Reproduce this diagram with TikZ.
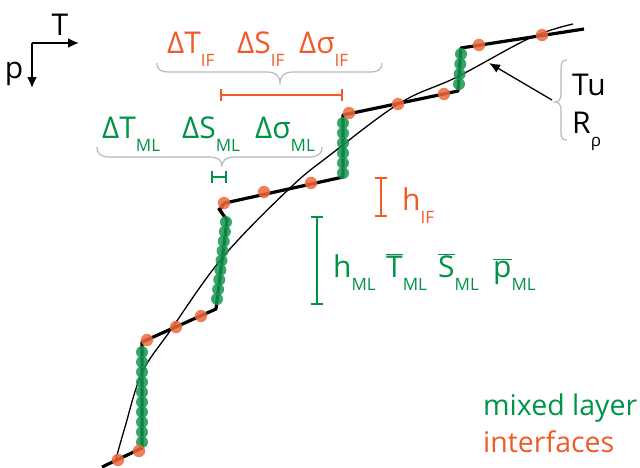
\documentclass[tikz,border=0pt]{standalone}
\usepackage{fontspec}
\setmainfont{Open Sans}
\usetikzlibrary{arrows.meta,positioning,calc}
\definecolor{mlgreen}{RGB}{0,146,69}
\definecolor{iforange}{RGB}{241,90,41}
\definecolor{dotorange}{RGB}{238,104,60}
\definecolor{dotgreen}{RGB}{20,150,80}
\definecolor{bracegrey}{RGB}{185,185,185}
\newcommand\sbs[1]{\raisebox{-0.44em}{\fontsize{17}{17}\selectfont #1}}
\newcommand\barred[1]{$\overline{\mbox{#1}}$}

\begin{document}
\begin{tikzpicture}[x=1pt, y=-1pt,
  lbl/.style={font=\fontsize{30}{30}\selectfont, inner sep=0pt, anchor=base west},
  legend/.style={font=\fontsize{28.5}{28.5}\selectfont, inner sep=0pt, anchor=base west},
  gbrace/.style={draw=bracegrey, line width=1.2pt},
  ibar/.style={line width=1.8pt, {Bar[width=12pt]}-{Bar[width=12pt]}},
  mldot/.style={fill=dotgreen, fill opacity=0.85},
  ifdot/.style={fill=dotorange, fill opacity=0.85}
]
\useasboundingbox (0,0) rectangle (640,467);

% axes
\coordinate (ax) at (32,43);
\coordinate (axT) at (79,43);
\coordinate (axp) at (32,88);
\draw[line width=1.8pt, -{Latex[length=11pt,width=10pt]}] (ax) -- (axT);
\draw[line width=1.8pt, -{Latex[length=11pt,width=10pt]}] (ax) -- (axp);
\node[lbl, anchor=base] (Tlab) at (60,35) {T};
\node[lbl, anchor=base] (plab) at (14,78) {p};

% smooth profile
\draw[line width=1.3pt] plot[smooth, tension=0.6] coordinates
  {(116,459) (125,427) (142,373) (170,331) (223,257) (290,188) (330,155)
   (400,103) (457,77) (530,38) (573,24)};

% staircase profile
\coordinate (s0) at (102,467);
\coordinate (b1) at (142,448);
\coordinate (t1) at (142,342);
\coordinate (b2) at (216,309);
\coordinate (t2) at (227,220);
\coordinate (k2) at (219,209);
\coordinate (b3) at (343,177);
\coordinate (t3) at (343,115);
\coordinate (b4) at (458,91);
\coordinate (t4) at (461,48);
\coordinate (s5) at (584,29);
\draw[line width=3.2pt, line join=round] (s0) -- (b1) -- (t1) -- (b2) -- (t2) -- (k2)
  to[out=-60, in=190] (225,203) -- (b3) -- (t3) -- (b4) -- (t4) -- (s5);

% mixed layer points
\foreach \y in {352,362,...,442} \fill[mldot] (142,\y) circle (6pt);
\foreach \i in {0,...,8} \fill[mldot] ($(217,299)!\i/8!(226,222)$) circle (6pt);
\foreach \y in {123,133,...,173} \fill[mldot] (343,\y) circle (6pt);
\foreach \i in {0,...,3} \fill[mldot] ($(459,84)!\i/3!(461,54)$) circle (6pt);

% interface points
\foreach \p in {(118,460),(139,451),(147,340),(176,327),(201,316),(224,203),
  (264,192),(311,183),(349,113),(398,104),(444,94),(479,45),(542,35)}
  \fill[ifdot] \p circle (6.2pt);

% interface quantities
\node[lbl, text=iforange] (dTif) at (167,53) {ΔT\sbs{IF}};
\node[lbl, text=iforange] (dSif) at (237,53) {ΔS\sbs{IF}};
\node[lbl, text=iforange] (dsif) at (299,53) {Δσ\sbs{IF}};
\draw[gbrace] (157,63) .. controls (157,70) and (161,72) .. (170,72) -- (267,72)
  .. controls (276,72) and (280,76) .. (280,84) .. controls (280,76) and (284,72) .. (293,72)
  -- (369,72) .. controls (378,72) and (382,70) .. (382,63);
\coordinate (ifL) at (220,95);
\coordinate (ifR) at (343,95);
\draw[ibar, draw=iforange] (ifL) -- (ifR);

% mixed layer quantities
\node[lbl, text=mlgreen] (dTml) at (102,138) {ΔT\sbs{ML}};
\node[lbl, text=mlgreen] (dSml) at (182,138) {ΔS\sbs{ML}};
\node[lbl, text=mlgreen] (dsml) at (255,138) {Δσ\sbs{ML}};
\draw[gbrace] (97,147) .. controls (97,154) and (101,157) .. (110,157) -- (209,157)
  .. controls (218,157) and (222,160) .. (222,167) .. controls (222,160) and (226,157) .. (235,157)
  -- (309,157) .. controls (318,157) and (322,154) .. (322,147);
\coordinate (mlL) at (211,177);
\coordinate (mlR) at (227,177);
\draw[ibar, draw=mlgreen] (mlL) -- (mlR);

% thicknesses
\coordinate (hifT) at (381,177);
\coordinate (hifB) at (381,217);
\draw[ibar, draw=iforange] (hifT) -- (hifB);
\node[lbl, text=iforange] (hif) at (402,210) {h\sbs{IF}};
\coordinate (hmlT) at (317,216);
\coordinate (hmlB) at (317,305);
\draw[ibar, draw=mlgreen] (hmlT) -- (hmlB);
\node[lbl, text=mlgreen] (hml) at (333,277) {h\sbs{ML}};
\node[lbl, text=mlgreen] (Tml) at (386,277) {\barred{T}\sbs{ML}};
\node[lbl, text=mlgreen] (Sml) at (438,277) {\barred{S}\sbs{ML}};
\node[lbl, text=mlgreen] (pml) at (493,277) {\barred{p}\sbs{ML}};

% Turner angle and density ratio
\draw[gbrace] (567,60) .. controls (562,60) and (561,63) .. (561,70) -- (561,94)
  .. controls (561,99) and (559,102) .. (555,102) .. controls (559,102) and (561,105) .. (561,110)
  -- (561,132) .. controls (561,138) and (562,140) .. (567,140);
\node[lbl] (Tu) at (572,95) {Tu};
\node[lbl] (Rrho) at (572,133) {R\sbs{ρ}};
\coordinate (tuTail) at (552,100);
\coordinate (tuTip) at (489,63);
\draw[line width=1.3pt, -{Latex[length=11pt,width=9pt]}] (tuTail) -- (tuTip);

% legend
\node[legend, text=mlgreen] (legml) at (483,415) {mixed layer};
\node[legend, text=iforange] (legif) at (483,452) {interfaces};
\end{tikzpicture}
\end{document}
